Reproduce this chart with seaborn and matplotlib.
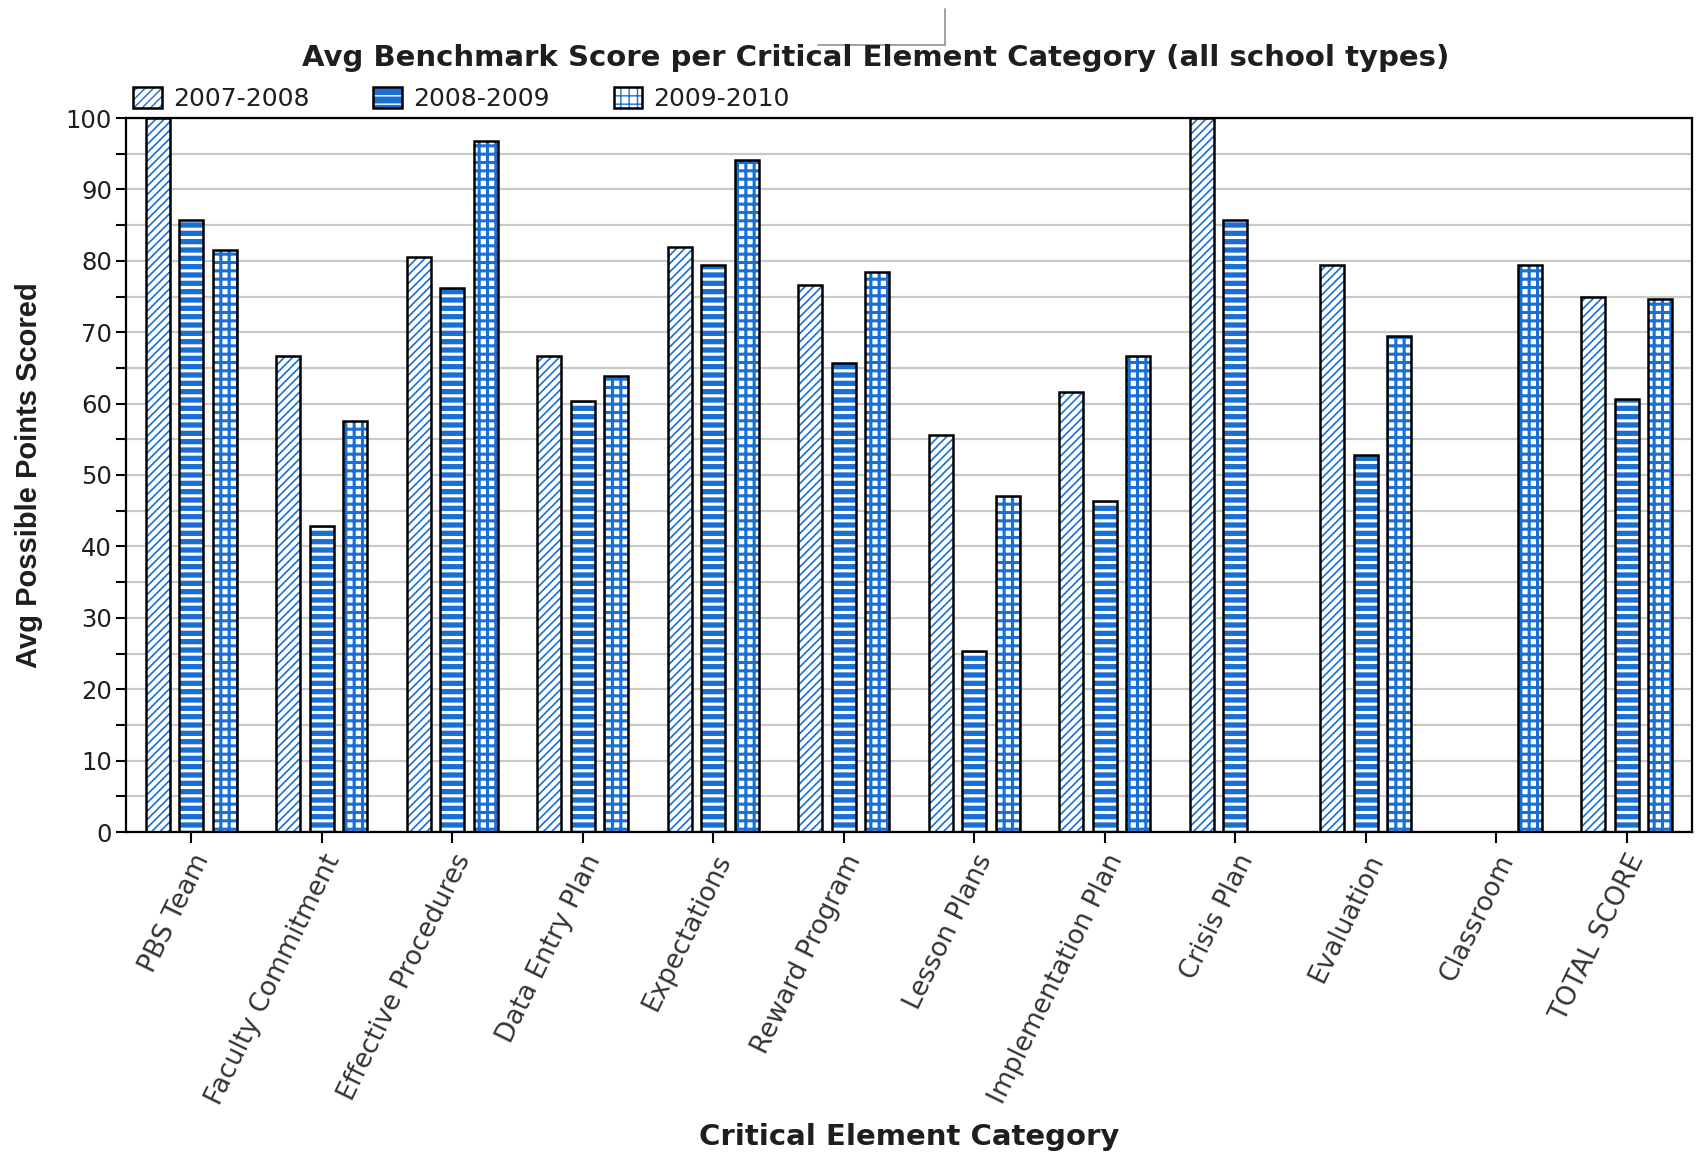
import numpy as np
import pandas as pd
import matplotlib
matplotlib.use("Agg")
import matplotlib.pyplot as plt
from matplotlib.patches import Rectangle, Patch
from matplotlib.lines import Line2D
from matplotlib.ticker import MultipleLocator
from matplotlib.legend_handler import HandlerTuple
import seaborn as sns

# ---- data -------------------------------------------------------------
categories = ["PBS Team", "Faculty Commitment", "Effective Procedures",
              "Data Entry Plan", "Expectations", "Reward Program",
              "Lesson Plans", "Implementation Plan", "Crisis Plan",
              "Evaluation", "Classroom", "TOTAL SCORE"]
years = ["2007-2008", "2008-2009", "2009-2010"]
score_2007_2008 = [100.0, 66.7, 80.6, 66.7, 82.0, 76.6, 55.6, 61.6, 100.0, 79.4, np.nan, 75.0]
score_2008_2009 = [85.7, 42.9, 76.2, 60.3, 79.4, 65.7, 25.4, 46.3, 85.7, 52.8, np.nan, 60.7]
score_2009_2010 = [81.5, 57.5, 96.8, 63.8, 94.1, 78.5, 47.0, 66.7, np.nan, 69.4, 79.4, 74.7]
y_ticks = [0, 10, 20, 30, 40, 50, 60, 70, 80, 90, 100]

series = {"2007-2008": score_2007_2008,
          "2008-2009": score_2008_2009,
          "2009-2010": score_2009_2010}
df = pd.DataFrame([
    {"category": c, "year": yr, "score": v}
    for yr, vals in series.items() for c, v in zip(categories, vals)
]).dropna()

# ---- style ------------------------------------------------------------
sns.set_style("white")
plt.rcParams["font.family"] = ["DejaVu Sans"]

BLUE = "#1a6fd4"
TEXT = "#1e1e1e"
fills = {
    "2007-2008": dict(face="white", hatch="////", hcolor=BLUE, hlw=1.2),
    "2008-2009": dict(face=BLUE, hatch="--", hcolor="white", hlw=2.2),
    "2009-2010": dict(face="white", hatch="++", hcolor=BLUE, hlw=2.2),
}


def apply_fill(patch, spec):
    patch.set_facecolor(spec["face"])
    patch.set_edgecolor(spec["hcolor"])   # edge colour drives the hatch colour
    patch.set_linewidth(0)
    patch.set_hatch(spec["hatch"])
    if hasattr(patch, "set_hatch_linewidth"):
        patch.set_hatch_linewidth(spec["hlw"])


fig = plt.figure(figsize=(16.98, 11.55), dpi=100)
ax = fig.add_axes([126 / 1698, 1 - 832 / 1155, 1566 / 1698, 714 / 1155])

sns.barplot(data=df, x="category", y="score", hue="year",
            order=categories, hue_order=years,
            width=0.77, gap=0.28, errorbar=None, legend=False, ax=ax)

# hatch each bar by its slot inside the group, then outline it in black
for p in list(ax.patches):
    w = p.get_width()
    h = p.get_height()
    if not np.isfinite(h) or h == 0:
        continue
    cx = p.get_x() + w / 2
    off = cx - round(cx)
    idx = 0 if off < -0.1 else (2 if off > 0.1 else 1)
    apply_fill(p, fills[years[idx]])
    ax.add_patch(Rectangle((p.get_x(), p.get_y()), w, h, fill=False,
                           edgecolor="black", linewidth=1.8,
                           zorder=p.get_zorder() + 0.1))

# ---- axes -------------------------------------------------------------
ax.set_xlim(-0.5, len(categories) - 0.5)
ax.set_ylim(0, 100)
ax.set_yticks(y_ticks)
ax.yaxis.set_minor_locator(MultipleLocator(5))
ax.yaxis.grid(True, which="both", color="#c9c9c9", linewidth=1.6)
ax.set_axisbelow(True)

for s in ax.spines.values():
    s.set_visible(True)
    s.set_color("black")
    s.set_linewidth(1.6)

ax.tick_params(axis="y", which="both", left=True, direction="out",
               length=7, width=1.5, color="black",
               labelsize=17.5, labelcolor=TEXT, pad=3)
ax.tick_params(axis="x", which="both", bottom=True, direction="out",
               length=8, width=1.5, color="black",
               labelsize=19, labelcolor="#333333", pad=5)
ax.set_xticks(range(len(categories)))
ax.set_xticklabels(categories, rotation=64, ha="right",
                   rotation_mode="anchor")

ax.set_xlabel("Critical Element Category", fontsize=21, fontweight="bold",
              color=TEXT)
ax.xaxis.set_label_coords(0.5, (832 - 1137) / 714)
ax.xaxis.label.set_va("center")
ax.set_ylabel("Avg Possible Points Scored", fontsize=21, fontweight="bold",
              color=TEXT, family=["Liberation Sans", "DejaVu Sans"])
ax.yaxis.set_label_coords((29 - 126) / 1566, 0.5)
ax.yaxis.label.set_va("center")

# ---- title, legend ------------------------------------------------------
fig.text(876 / 1698, 1 - 58 / 1155,
         "Avg Benchmark Score per Critical Element Category (all school types)",
         ha="center", va="center", fontsize=21, fontweight="bold", color=TEXT)

handles = []
for yr in years:
    hp = Patch()
    apply_fill(hp, fills[yr])
    outline = Patch(facecolor="none", edgecolor="black", linewidth=1.8)
    handles.append((hp, outline))
leg = ax.legend(handles, years, handler_map={tuple: HandlerTuple(ndivide=1, pad=0)},
                loc="lower left", bbox_to_anchor=(133 / 1698, 1 - 111 / 1155),
                bbox_transform=fig.transFigure, ncol=3, frameon=False,
                fontsize=18, handlelength=1.15, handleheight=0.95,
                handletextpad=0.45, columnspacing=2.55, borderpad=0,
                borderaxespad=0)
for t in leg.get_texts():
    t.set_color(TEXT)

# thin grey corner line above the title
fig.add_artist(Line2D([818 / 1698, 945 / 1698], [1 - 45 / 1155] * 2,
                      color="#9a9a9a", linewidth=1.3, transform=fig.transFigure))
fig.add_artist(Line2D([945 / 1698, 945 / 1698], [1 - 9 / 1155, 1 - 45 / 1155],
                      color="#9a9a9a", linewidth=1.3, transform=fig.transFigure))

fig.savefig("out.png", dpi=100)
